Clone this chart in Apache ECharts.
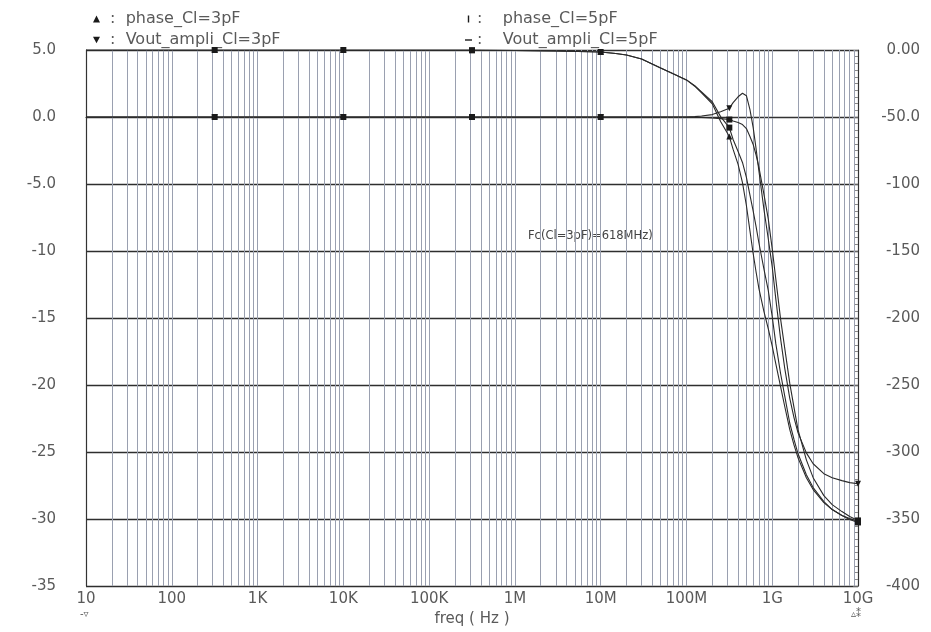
<!DOCTYPE html>
<html>
<head>
<meta charset="utf-8">
<script src="https://cdn.jsdelivr.net/npm/echarts@6/dist/echarts.min.js"></script>
<style>
  html, body { margin: 0; padding: 0; background: #ffffff; }
  #chart { width: 931px; height: 632px; }
</style>
</head>
<body>
<div id="chart"></div>
<script>
// Frequency sweep points (Hz)
const freqs = [10, 316.2, 1e4, 3.162e5, 1e6, 3e6, 1e7, 1.5e7, 2e7, 3e7, 5e7, 7e7, 1e8, 1.25e8,
  1.5e8, 2e8, 2.5e8, 3.162e8, 3.5e8, 4e8, 4.5e8, 5e8, 5.5e8, 6e8, 6.5e8, 7e8, 8e8, 9e8, 1e9,
  1.1e9, 1.25e9, 1.4e9, 1.6e9, 1.8e9, 2e9, 2.5e9, 3e9, 4e9, 5e9, 6.5e9, 8e9, 1e10];

// Phase (degrees), right axis
const phase3pF = [0, 0, 0, -0.1, -0.4, -0.7, -1.5, -2.6, -3.7, -6.7, -13.4, -17.8, -22.3, -27.0,
  -31.9, -40.1, -53.4, -64.6, -74.2, -85.3, -99.0, -116.0, -135.0, -152.0, -166.0, -178.0,
  -195.0, -208.0, -221.0, -234.0, -251.0, -266.0, -283.0, -295.0, -304.3, -319.1, -328.0,
  -337.7, -342.9, -347.3, -349.5, -351.8];
const phase5pF = [0, 0, 0, -0.1, -0.4, -0.7, -1.5, -2.6, -3.7, -6.7, -13.4, -17.8, -22.3, -26.7,
  -31.2, -38.6, -49.7, -57.9, -66.8, -75.7, -83.9, -95.0, -108.3, -120.2, -132.1, -144.0,
  -163.3, -179.6, -198.9, -218.9, -241.2, -258.3, -278.3, -290.9, -301.3, -316.9, -326.5,
  -336.9, -342.9, -347.3, -350.3, -352.5];

// Output amplitude (dB), left axis
const vout3pF = [0, 0, 0, 0, 0, 0, 0, 0, 0, 0, 0, 0, 0, 0.03, 0.07, 0.18, 0.40, 0.66, 1.07, 1.51,
  1.77, 1.59, 0.55, -0.79, -2.42, -4.05, -6.87, -9.10, -11.18, -13.55, -16.52, -18.75, -20.97,
  -22.46, -23.57, -25.06, -25.87, -26.61, -26.91, -27.13, -27.28, -27.36];
const vout5pF = [0, 0, 0, 0, 0, 0, 0, 0, 0, 0, 0, 0, 0, -0.01, -0.03, -0.07, -0.12, -0.19, -0.30,
  -0.41, -0.56, -0.86, -1.45, -2.05, -2.87, -3.76, -5.76, -7.62, -9.84, -12.07, -15.04, -17.26,
  -19.86, -21.72, -23.35, -25.58, -26.91, -28.25, -28.92, -29.44, -29.81, -30.10];

// Frequencies where trace markers are drawn
const markerFreqs = [316.2, 1e4, 3.162e5, 1e7, 3.162e8, 1e10];

// Axis tick labels
const xTickLabels = ['10', '100', '1K', '10K', '100K', '1M', '10M', '100M', '1G', '10G'];
const leftTickLabels = ['5.0', '0.0', '-5.0', '-10', '-15', '-20', '-25', '-30', '-35'];
const rightTickLabels = ['0.00', '-50.0', '-100', '-150', '-200', '-250', '-300', '-350', '-400'];

const annotation = 'Fc(Cl=3pF)=618MHz)';

const FONT = 'DejaVu Sans';
const TEXT = '#5a5a5a';
const CURVE = '#2a2a2a';

const SYM_UP = 'triangle';
const SYM_DOWN = 'path://M0,0L10,0L5,9Z';
const SYM_BAR = 'path://M4,0L6,0L6,10L4,10Z';
const SYM_DASH = 'path://M0,4L10,4L10,6L0,6Z';

// Minor decade lines at 2..9 x 10^n
const minorLines = [];
for (let d = 1; d < 10; d++) {
  for (let m = 2; m <= 9; m++) minorLines.push({ xAxis: m * Math.pow(10, d) });
}

function buildData(values, shape) {
  return freqs.map((f, i) => ({
    value: [f, values[i]],
    symbol: markerFreqs.indexOf(f) >= 0 ? shape : 'none'
  }));
}

function lineSeries(name, values, axis, shape) {
  return {
    name: name,
    type: 'line',
    yAxisIndex: axis,
    data: buildData(values, shape),
    symbolSize: 6,
    smooth: false,
    lineStyle: { color: CURVE, width: 1.1 },
    itemStyle: { color: '#1a1a1a' },
    emphasis: { disabled: true },
    z: 5
  };
}

const series = [
  lineSeries('phase_Cl=3pF', phase3pF, 1, SYM_UP),
  lineSeries('Vout_ampli_Cl=3pF', vout3pF, 0, SYM_DOWN),
  lineSeries('phase_Cl=5pF', phase5pF, 1, SYM_BAR),
  lineSeries('Vout_ampli_Cl=5pF', vout5pF, 0, SYM_DASH)
];
series[0].markLine = {
  silent: true,
  symbol: ['none', 'none'],
  label: { show: false },
  lineStyle: { color: '#9aa0b0', width: 1, type: 'solid' },
  data: minorLines,
  animation: false
};

const legendText = { color: TEXT, fontFamily: FONT, fontSize: 16, lineHeight: 18 };

const chart = echarts.init(document.getElementById('chart'), null, { renderer: 'canvas' });
chart.setOption({
  animation: false,
  backgroundColor: '#ffffff',
  grid: { left: 86, right: 73, top: 50, bottom: 43 },
  legend: [
    {
      left: 88, top: 5, orient: 'vertical', itemGap: 3, itemWidth: 7, itemHeight: 7,
      selectedMode: false, textStyle: legendText,
      formatter: n => ' :  ' + n,
      data: [{ name: 'phase_Cl=3pF', icon: SYM_UP }, { name: 'Vout_ampli_Cl=3pF', icon: SYM_DOWN }]
    },
    {
      left: 460, top: 5, orient: 'vertical', itemGap: 3, itemWidth: 7, itemHeight: 7,
      selectedMode: false, textStyle: legendText,
      formatter: n => ':    ' + n,
      data: [{ name: 'phase_Cl=5pF', icon: SYM_BAR }, { name: 'Vout_ampli_Cl=5pF', icon: SYM_DASH }]
    }
  ],
  xAxis: {
    type: 'log',
    logBase: 10,
    min: 10,
    max: 1e10,
    name: 'freq ( Hz )',
    nameLocation: 'middle',
    nameGap: 22,
    nameTextStyle: { color: TEXT, fontFamily: FONT, fontSize: 15 },
    axisLine: { lineStyle: { color: '#333', width: 1.2 } },
    axisTick: { show: false },
    axisLabel: {
      color: TEXT, fontFamily: FONT, fontSize: 15, margin: 6,
      formatter: v => xTickLabels[Math.round(Math.log10(v)) - 1]
    },
    splitLine: { show: true, lineStyle: { color: '#9aa0b0', width: 1 } }
  },
  yAxis: [
    {
      type: 'value',
      position: 'left',
      min: -35, max: 5, interval: 5,
      axisLine: { show: true, lineStyle: { color: '#333', width: 1.2 } },
      axisTick: { show: false },
      axisLabel: {
        color: TEXT, fontFamily: FONT, fontSize: 15, margin: 30,
        formatter: v => leftTickLabels[Math.round((5 - v) / 5)]
      },
      splitLine: { show: true, lineStyle: { color: '#2e2e2e', width: 1.4 } }
    },
    {
      type: 'value',
      position: 'right',
      min: -400, max: 0, interval: 50,
      axisLine: { show: true, lineStyle: { color: '#333', width: 1.2 } },
      axisTick: { show: true, inside: true, length: 5, lineStyle: { color: '#666' } },
      minorTick: { show: true, splitNumber: 10, length: 3, lineStyle: { color: '#888' } },
      axisLabel: {
        color: TEXT, fontFamily: FONT, fontSize: 15, margin: 62, align: 'right',
        formatter: v => rightTickLabels[Math.round(-v / 50)]
      },
      splitLine: { show: false }
    }
  ],
  graphic: [
    {
      type: 'text', left: 528, top: 230, silent: true,
      style: { text: annotation, fill: '#444', fontFamily: FONT, fontSize: 11.5 }
    },
    {
      type: 'text', left: 80, top: 609, silent: true,
      style: { text: '-\u25BF', fill: TEXT, fontFamily: FONT, fontSize: 10 }
    },
    {
      type: 'text', left: 851, top: 609, silent: true,
      style: { text: '\u25B5\u2051', fill: TEXT, fontFamily: FONT, fontSize: 10 }
    }
  ],
  series: series
});
</script>
</body>
</html>
